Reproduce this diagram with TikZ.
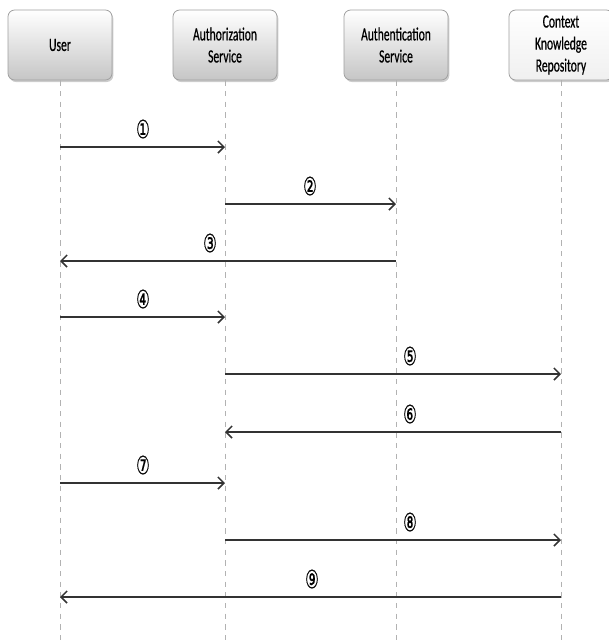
\documentclass[tikz,border=0pt]{standalone}
\usepackage{fontspec}
\setmainfont{Carlito}
\newfontfamily\actorfont[FakeStretch=0.62,FakeBold=0.6]{Carlito}
\newfontfamily\numfont[FakeStretch=0.6,FakeBold=0.5]{DejaVu Sans}
\usetikzlibrary{arrows.meta, shadows}
\tikzset{%
	every actor/.style={
		rectangle,
		rounded corners=5pt,
		draw=gray!75,
		line width=0.6pt,
		top color=white,
		bottom color=gray!45,
		drop shadow={opacity=0.4, shadow xshift=1pt, shadow yshift=-1.5pt},
		minimum width=78pt,
		minimum height=52.5pt,
		align=center,
		font=\actorfont\fontsize{14}{16.5}\selectfont
	},
	light actor/.style={
		every actor,
		bottom color=gray!12
	},
	lifeline/.style={
		draw=gray!60,
		line width=0.7pt,
		dash pattern=on 4pt off 4pt
	},
	message/.style={
		draw=black!80,
		line width=1.1pt,
		-{Straight Barb[length=4.5pt,width=9pt]}
	},
	msg number/.style={
		font=\numfont\fontsize{19}{19}\selectfont,
		inner sep=0pt
	},
}

\begin{document}
\begin{tikzpicture}[x=0.75pt, y=-0.75pt]
	\useasboundingbox (0,0) rectangle (609,644);

	% participants
	\node[every actor] (user)  at (60,45)  {User};
	\node[every actor] (authz) at (225,45) {Authorization\\Service};
	\node[every actor] (authn) at (396,45) {Authentication\\Service};
	\node[light actor] (ckr)   at (561,45) {Context\\Knowledge\\Repository};

	% lifelines
	\foreach \p in {user, authz, authn, ckr}
		\draw[lifeline] (\p.south) -- (\p.south |- 0,644);

	% messages
	\foreach \i/\y/\from/\to/\lx/\txt in {
			1/147/user/authz/143/①,
			2/204/authz/authn/310/②,
			3/261/authn/user/210/③,
			4/317/user/authz/143/④,
			5/374/authz/ckr/410/⑤,
			6/432/ckr/authz/410/⑥,
			7/483/user/authz/143/⑦,
			8/540/authz/ckr/410/⑧,
			9/597/ckr/user/312/⑨}
	{
		\draw[message] (\from |- 0,\y) -- (\to |- 0,\y);
		\node[msg number] (num-\i) at (\lx,\y-18) {\txt};
	}
\end{tikzpicture}
\end{document}
